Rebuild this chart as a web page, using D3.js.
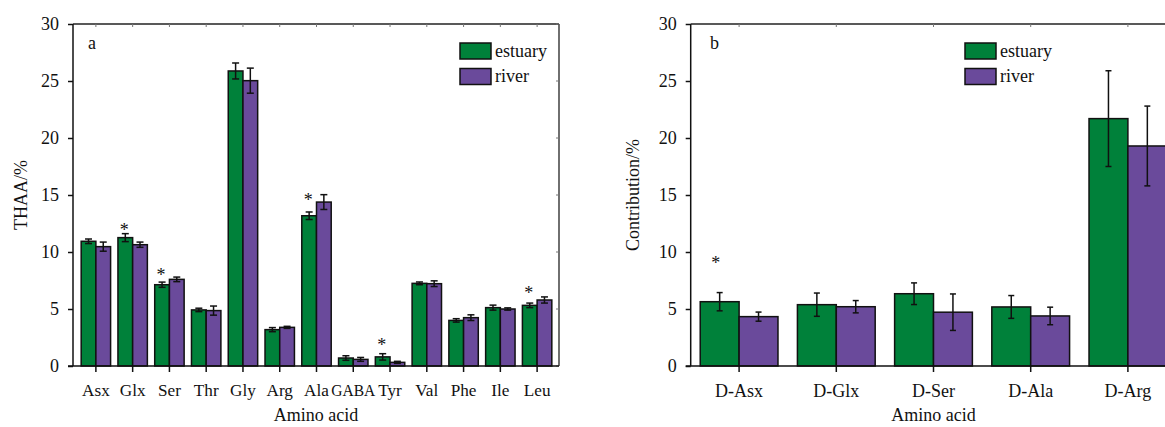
<!DOCTYPE html>
<html><head><meta charset="utf-8">
<script src="https://cdn.jsdelivr.net/npm/d3@7"></script>
<style>
html,body{margin:0;padding:0;background:#fff;}
svg{display:block;}
text{font-family:"Liberation Serif","Times New Roman",serif;fill:#111;}
</style></head>
<body>
<svg id="chart" width="1165" height="427"></svg>
<script>
// ---------- data ----------
const seriesNames = ["estuary", "river"];
const yTicks = [0, 5, 10, 15, 20, 25, 30];

const catsA = ["Asx","Glx","Ser","Thr","Gly","Arg","Ala","GABA","Tyr","Val","Phe","Ile","Leu"];
const estuaryA    = [10.94, 11.26, 7.13, 4.92, 25.88, 3.19, 13.18, 0.70, 0.80, 7.25, 4.00, 5.12, 5.32];
const riverA      = [10.47, 10.64, 7.60, 4.86, 25.03, 3.39, 14.38, 0.58, 0.32, 7.22, 4.24, 5.00, 5.79];
const estuaryErrA = [0.20, 0.35, 0.23, 0.15, 0.70, 0.18, 0.33, 0.20, 0.28, 0.12, 0.15, 0.22, 0.20];
const riverErrA   = [0.40, 0.23, 0.20, 0.40, 1.10, 0.09, 0.65, 0.17, 0.09, 0.25, 0.25, 0.10, 0.27];
const starCatsA   = ["Glx","Ser","Ala","Tyr","Leu"];
const starLevelsA = [12.1, 8.2, 14.7, 2.05, 6.6];

const catsB = ["D-Asx","D-Glx","D-Ser","D-Ala","D-Arg"];
const estuaryB    = [5.64, 5.38, 6.34, 5.18, 21.70];
const riverB      = [4.33, 5.20, 4.72, 4.39, 19.30];
const estuaryErrB = [0.80, 1.02, 0.95, 1.00, 4.20];
const riverErrB   = [0.40, 0.54, 1.60, 0.77, 3.50];
const starCatsB   = ["D-Asx"];
const starLevelsB = [9.2];

// ---------- styles ----------
const colors = {estuary: "#00813a", river: "#6a4a9b"};
const FS = 18;
const svg = d3.select("#chart");

function drawPanel(o) {
  const g = svg.append("g");
  const y = d3.scaleLinear().domain([0, 30]).range([o.yBottom, o.yTop]);
  const x = d3.scaleBand().domain(o.cats).range(o.bandRange).paddingInner(0.2).paddingOuter(0.1);
  const xs = d3.scaleBand().domain(seriesNames).range([0, x.bandwidth()]);

  // top frame line + inward ticks
  g.append("line").attr("x1", o.axisLeft).attr("x2", o.axisRight).attr("y1", o.yTop).attr("y2", o.yTop)
    .attr("stroke", "#222").attr("stroke-width", 1.3);
  g.selectAll(".tt").data(o.cats).enter().append("line")
    .attr("x1", d => x(d) + x.bandwidth()/2).attr("x2", d => x(d) + x.bandwidth()/2)
    .attr("y1", o.yTop).attr("y2", o.yTop + 3).attr("stroke", "#777").attr("stroke-width", 1);
  // right frame
  g.append("line").attr("x1", o.axisRight).attr("x2", o.axisRight).attr("y1", o.yTop).attr("y2", o.yBottom)
    .attr("stroke", "#222").attr("stroke-width", 1.3);
  g.selectAll(".rt").data(yTicks).enter().append("line")
    .attr("x1", o.axisRight - 3).attr("x2", o.axisRight).attr("y1", d => y(d)).attr("y2", d => y(d))
    .attr("stroke", "#777").attr("stroke-width", 1);

  const rows = [];
  o.cats.forEach((c, i) => {
    rows.push({c, s: "estuary", v: o.est[i], e: o.estErr[i]});
    rows.push({c, s: "river", v: o.riv[i], e: o.rivErr[i]});
  });

  g.selectAll(".bar").data(rows).enter().append("rect")
    .attr("x", d => x(d.c) + xs(d.s)).attr("width", xs.bandwidth())
    .attr("y", d => y(d.v)).attr("height", d => y(0) - y(d.v))
    .attr("fill", d => colors[d.s]).attr("stroke", "#111").attr("stroke-width", 1.5);

  // error bars
  const eb = g.selectAll(".eb").data(rows).enter().append("g")
    .attr("stroke", "#111").attr("stroke-width", 1.5);
  const cx = d => x(d.c) + xs(d.s) + xs.bandwidth()/2;
  eb.append("line").attr("x1", cx).attr("x2", cx).attr("y1", d => y(d.v + d.e)).attr("y2", d => y(d.v - d.e));
  eb.append("line").attr("x1", d => cx(d) - o.cap).attr("x2", d => cx(d) + o.cap)
    .attr("y1", d => y(d.v + d.e)).attr("y2", d => y(d.v + d.e));
  eb.append("line").attr("x1", d => cx(d) - o.cap).attr("x2", d => cx(d) + o.cap)
    .attr("y1", d => y(d.v - d.e)).attr("y2", d => y(d.v - d.e));

  // stars
  g.selectAll(".star").data(o.starCats).enter().append("text")
    .attr("x", d => x(d) + xs("estuary") + xs.bandwidth()/2 + o.starDx)
    .attr("y", (d, i) => y(o.starLevels[i]) + 8)
    .attr("text-anchor", "middle").attr("font-size", FS).text("*");

  // left axis
  const yAxis = d3.axisLeft(y).tickValues(yTicks).tickSize(5).tickPadding(9);
  const ya = g.append("g").attr("transform", `translate(${o.axisLeft},0)`).call(yAxis);
  ya.select(".domain").attr("stroke", "#111").attr("stroke-width", 1.5).attr("d", `M0,${o.yTop}V${o.yBottom}`);
  ya.selectAll(".tick line").attr("stroke", "#111").attr("stroke-width", 1.5);
  ya.selectAll("text").attr("font-size", FS).attr("font-family", "Liberation Serif, serif").attr("fill", "#111");

  // bottom axis
  const xAxis = d3.axisBottom(x).tickSize(6).tickPadding(12);
  const xa = g.append("g").attr("transform", `translate(0,${o.yBottom})`).call(xAxis);
  xa.select(".domain").attr("stroke", "#111").attr("stroke-width", 1.5).attr("d", `M${o.axisLeft - 5},0H${o.axisRight}`);
  xa.selectAll(".tick line").attr("stroke", "#111").attr("stroke-width", 1.5);
  xa.selectAll("text").attr("font-size", o.catFS).attr("font-family", "Liberation Serif, serif").attr("fill", "#111")
    .filter(d => d === "GABA").attr("textLength", 44).attr("lengthAdjust", "spacingAndGlyphs");

  // axis titles
  g.append("text").attr("x", o.xTitleX).attr("y", 421).attr("text-anchor", "middle")
    .attr("font-size", FS).text("Amino acid");
  g.append("text").attr("transform", `translate(${o.yTitleX},${(o.yTop + o.yBottom)/2}) rotate(-90)`)
    .attr("text-anchor", "middle").attr("font-size", FS).text(o.yTitle);

  // panel label
  g.append("text").attr("x", o.labelX).attr("y", 49).attr("font-size", FS).text(o.label);

  // legend
  seriesNames.forEach((s, i) => {
    g.append("rect").attr("x", o.legX).attr("y", 43 + i * 25.5).attr("width", 31).attr("height", 16)
      .attr("fill", colors[s]).attr("stroke", "#111").attr("stroke-width", 1.5);
    g.append("text").attr("x", o.legX + 35).attr("y", 56.5 + i * 25.5).attr("font-size", FS).text(s);
  });
  return g;
}

drawPanel({
  cats: catsA, est: estuaryA, riv: riverA, estErr: estuaryErrA, rivErr: riverErrA,
  starCats: starCatsA, starLevels: starLevelsA, starDx: -1, catFS: 17.2,
  yTop: 24, yBottom: 366, axisLeft: 73, axisRight: 559, bandRange: [77.5, 555.5],
  cap: 3.5, xTitleX: 316, yTitleX: 27, yTitle: "THAA/%", label: "a", labelX: 88, legX: 460
});
drawPanel({
  cats: catsB, est: estuaryB, riv: riverB, estErr: estuaryErrB, rivErr: riverErrB,
  starCats: starCatsB, starLevels: starLevelsB, starDx: -4, catFS: 18,
  yTop: 24, yBottom: 366, axisLeft: 690.7, axisRight: 1176.5, bandRange: [690.5, 1176.5],
  cap: 3, xTitleX: 933.5, yTitleX: 639, yTitle: "Contribution/%", label: "b", labelX: 710, legX: 965
});
</script>
</body></html>
